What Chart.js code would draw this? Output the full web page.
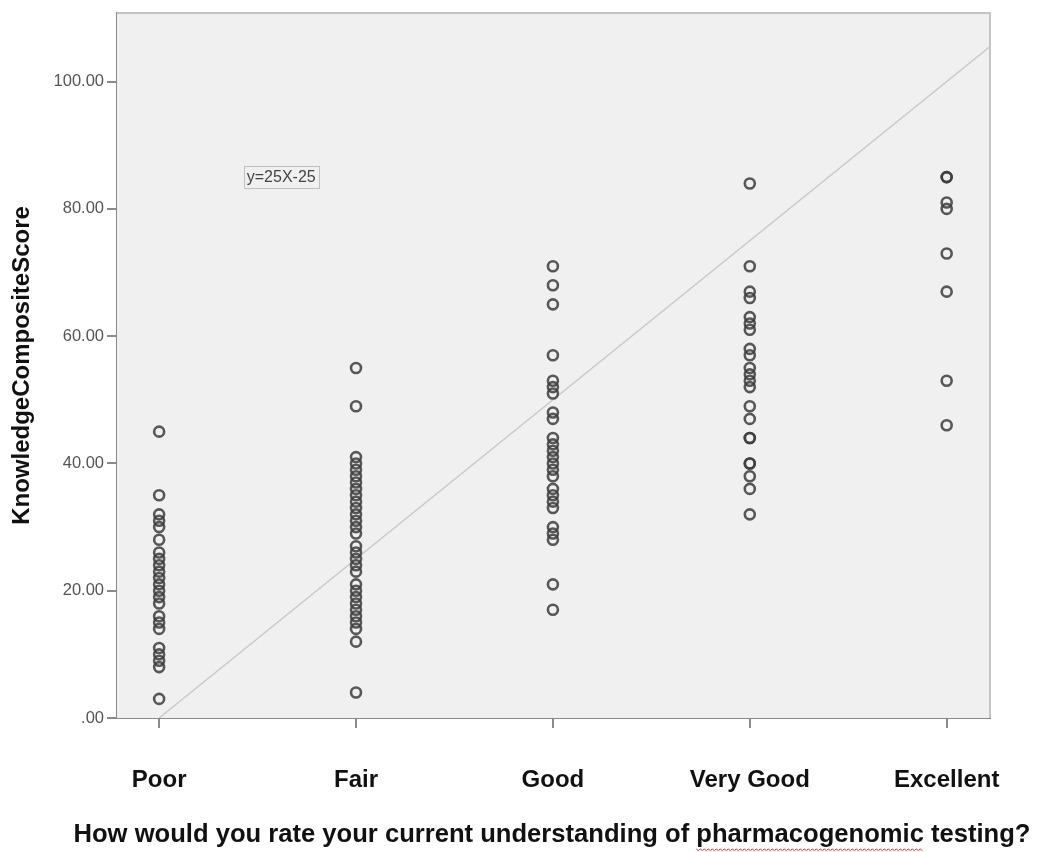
<!DOCTYPE html>
<html>
<head>
<meta charset="utf-8">
<script src="https://cdn.jsdelivr.net/npm/chart.js@4.4.1/dist/chart.umd.min.js"></script>
<style>
  html, body { margin: 0; padding: 0; background: #fff; }
</style>
</head>
<body>
<canvas id="chart" width="1041" height="852"></canvas>
<script>
// categories on the x axis (coded 1..5)
const categories = ['Poor', 'Fair', 'Good', 'Very Good', 'Excellent'];

// knowledge composite score per respondent
const poorScores = [45, 35, 32, 31, 30, 28, 26, 25, 24, 23, 22, 21, 20, 19, 18, 16, 15, 14, 11, 10, 9, 8, 3];
const fairScores = [55, 49, 41, 40, 39, 38, 37, 36, 35, 34, 33, 32, 31, 30, 29, 27, 26, 25, 24, 23, 21, 20, 19, 18, 17, 16, 15, 14, 12, 4];
const goodScores = [71, 68, 65, 57, 53, 52, 51, 48, 47, 44, 43, 42, 41, 40, 39, 38, 36, 35, 34, 33, 30, 29, 28, 21, 17];
const veryGoodScores = [84, 71, 67, 66, 63, 62, 61, 58, 57, 55, 54, 53, 52, 49, 47, 44, 44, 40, 40, 38, 36, 32];
const excellentScores = [85, 85, 81, 80, 73, 67, 53, 46];

// fit line end points (y = 25x - 25)
const fitX = [1, 5.22];
const fitY = [0, 105.5];
const fitLabel = 'y=25X-25';

// y tick values and their labels
const yTicks = [0, 20, 40, 60, 80, 100];
const yTickLabels = ['.00', '20.00', '40.00', '60.00', '80.00', '100.00'];

const xTitle = 'How would you rate your current understanding of pharmacogenomic testing?';
const yTitle = 'KnowledgeCompositeScore';

const FONT = 'Arial, "Liberation Sans", sans-serif';
const X_TITLE_SIZE = 25.6;

// build the scatter points from the per-category arrays
const allScores = [poorScores, fairScores, goodScores, veryGoodScores, excellentScores];
const points = [];
allScores.forEach((list, i) => {
    list.forEach(v => points.push({ x: i + 1, y: v }));
});
const fitPoints = fitX.map((x, i) => ({ x: x, y: fitY[i] }));

// plot background, frame, equation box, x title (wider than the plot) and squiggle
const decorations = {
    id: 'decorations',
    beforeDatasetsDraw(chart) {
        const { ctx, chartArea: a } = chart;
        ctx.save();
        ctx.fillStyle = '#f0f0f0';
        ctx.fillRect(a.left, a.top, a.right - a.left, a.bottom - a.top);
        ctx.restore();
    },
    afterDatasetsDraw(chart) {
        const { ctx, chartArea: a, scales } = chart;
        ctx.save();
        // top and right frame lines
        ctx.strokeStyle = '#c4c4c4';
        ctx.lineWidth = 2;
        ctx.beginPath();
        ctx.moveTo(a.left, a.top);
        ctx.lineTo(a.right, a.top);
        ctx.lineTo(a.right, a.bottom);
        ctx.stroke();

        // equation label box
        const ex = scales.x.getPixelForValue(1.62);
        const ey = scales.y.getPixelForValue(85);
        ctx.font = '16px ' + FONT;
        const w = ctx.measureText(fitLabel).width;
        ctx.fillStyle = '#f0f0f0';
        ctx.fillRect(ex - w / 2 - 3, ey - 11, w + 6, 22);
        ctx.strokeStyle = '#c0c0c0';
        ctx.lineWidth = 1;
        ctx.strokeRect(Math.round(ex - w / 2 - 3) + 0.5, Math.round(ey - 11) + 0.5, Math.round(w + 6), 22);
        ctx.fillStyle = '#444';
        ctx.textAlign = 'center';
        ctx.textBaseline = 'middle';
        ctx.fillText(fitLabel, ex, ey + 1);

        // x axis title, drawn here so it is not squeezed to the plot width
        ctx.font = 'bold ' + X_TITLE_SIZE + 'px ' + FONT;
        ctx.fillStyle = '#111';
        const cx = 552;
        const cy = 835;
        ctx.fillText(xTitle, cx, cy);

        // red wavy underline below "pharmacogenomic"
        const full = ctx.measureText(xTitle).width;
        const pre = ctx.measureText('How would you rate your current understanding of ').width;
        const word = ctx.measureText('pharmacogenomic').width;
        const x0 = cx - full / 2 + pre;
        const y0 = 849;
        ctx.strokeStyle = '#e03030';
        ctx.lineWidth = 1;
        ctx.beginPath();
        for (let x = x0; x <= x0 + word; x += 2) {
            const yy = y0 + (Math.round((x - x0) / 2) % 2 === 0 ? 0 : 1.5);
            if (x === x0) ctx.moveTo(x, yy); else ctx.lineTo(x, yy);
        }
        ctx.stroke();
        ctx.restore();
    }
};

new Chart(document.getElementById('chart'), {
    type: 'scatter',
    data: {
        datasets: [
            {
                type: 'line',
                data: fitPoints,
                borderColor: '#cacaca',
                borderWidth: 1.5,
                pointRadius: 0,
                fill: false,
                order: 2
            },
            {
                data: points,
                pointStyle: 'circle',
                pointRadius: 5,
                pointBorderWidth: 2.6,
                pointBorderColor: 'rgba(60,60,60,0.85)',
                pointBackgroundColor: 'rgba(0,0,0,0)',
                order: 1
            }
        ]
    },
    options: {
        responsive: false,
        animation: false,
        layout: { padding: { top: 12, right: 51, left: 0, bottom: 0 } },
        plugins: {
            legend: { display: false },
            tooltip: { enabled: false }
        },
        scales: {
            x: {
                type: 'linear',
                min: 0.786,
                max: 5.22,
                afterBuildTicks: axis => { axis.ticks = categories.map((c, i) => ({ value: i + 1 })); },
                afterFit: axis => { axis.height = 134; },
                ticks: {
                    callback: v => categories[v - 1],
                    font: { family: FONT, size: 24, weight: 'bold' },
                    color: '#111',
                    padding: 38,
                    maxRotation: 0,
                    autoSkip: false
                },
                grid: { drawOnChartArea: false, tickLength: 10, color: '#8a8a8a', lineWidth: 2 },
                border: { display: true, color: '#8a8a8a', width: 2 },
                title: { display: false }
            },
            y: {
                min: 0,
                max: 110.8,
                afterBuildTicks: axis => { axis.ticks = yTicks.map(v => ({ value: v })); },
                afterFit: axis => { axis.width = 117; },
                ticks: {
                    callback: v => yTickLabels[yTicks.indexOf(v)],
                    font: { family: FONT, size: 16.5 },
                    color: '#555',
                    padding: 3
                },
                grid: { drawOnChartArea: false, tickLength: 10, color: '#8a8a8a', lineWidth: 2 },
                border: { display: true, color: '#8a8a8a', width: 2 },
                title: {
                    display: true,
                    text: yTitle,
                    font: { family: FONT, size: 24, weight: 'bold' },
                    color: '#111',
                    padding: { top: 8, bottom: 0 }
                }
            }
        }
    },
    plugins: [decorations]
});
</script>
</body>
</html>
